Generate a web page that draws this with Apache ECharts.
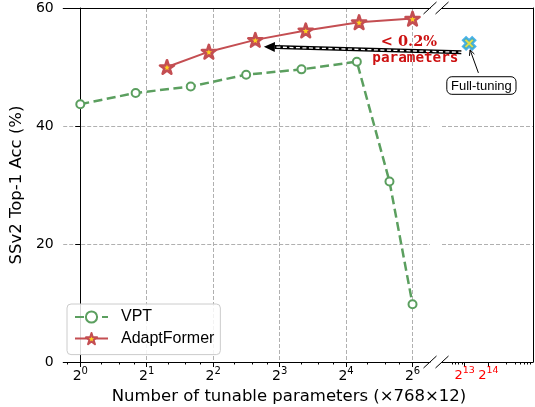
<!DOCTYPE html>
<html><head><meta charset="utf-8">
<script src="https://cdn.jsdelivr.net/npm/echarts@6/dist/echarts.min.js"></script>
<style>html,body{margin:0;padding:0;background:#fff}#c{width:535px;height:407px}</style>
</head><body><div id="c"></div>
<script>
// ---- data (x in log2 units of tunable parameters ×768×12) ----
const VPT_X = [0, 0.833, 1.662, 2.496, 3.329, 4.162, 4.653, 5.0];
const VPT_Y = [43.7, 45.6, 46.7, 48.7, 49.6, 50.9, 30.6, 9.8];
const ADAPT_X = [1.305, 1.935, 2.634, 3.393, 4.196, 5.0];
const ADAPT_Y = [50.0, 52.6, 54.6, 56.2, 57.6, 58.2];
const FULL_X = [13.19];
const FULL_Y = [54.0];
const LEFT_TICKS = [0, 1, 2, 3, 4, 5];
const LEFT_TICK_EXP = ['0', '1', '2', '3', '4', '6'];
const RIGHT_TICKS = [13, 14];
const RIGHT_TICK_EXP = ['13', '14'];
const LEFT_MINOR = [-0.193, 0.32, 0.585, 0.807, 1.32, 1.585, 1.807, 2.32, 2.585, 2.807, 3.32, 3.585, 3.807, 4.32, 4.585, 4.807];
const RIGHT_MINOR = [12.46, 12.6, 12.74, 12.88, 14.77, 15.12, 15.33, 15.5, 15.64, 15.75];
const Y_TICKS = [0, 20, 40, 60];
const SERIES_NAMES = ['VPT', 'AdaptFormer'];
const X_TITLE = 'Number of tunable parameters (×768×12)';
const Y_TITLE = 'SSv2 Top-1 Acc (%)';

const GREEN = '#5b9f5f', RED = '#c44e52';
const SANS = 'DejaVu Sans';
const STAR = 'path://M0 -1 L0.2245 -0.309 L0.951 -0.309 L0.363 0.118 L0.588 0.809 L0 0.382 L-0.588 0.809 L-0.363 0.118 L-0.951 -0.309 L-0.2245 -0.309 Z';
const XMARK = 'path://M-0.474 0.94 L0 0.467 L0.474 0.94 L0.94 0.474 L0.467 0 L0.94 -0.474 L0.474 -0.94 L0 -0.467 L-0.474 -0.94 L-0.94 -0.474 L-0.467 0 L-0.94 0.474 Z';

const G1 = {left: 59, top: 8, width: 371, height: 354};
const G2 = {left: 442, top: 8, width: 91, height: 354};

const zip = (xs, ys) => xs.map((x, i) => [x, ys[i]]);
const grid = {type: [4, 2], color: '#b0b0b0', width: 1};
const black = {color: '#000', width: 1};

function supLabel(exps, ticks, color, base, sup) {
  return {
    customValues: ticks, margin: 4,
    formatter: v => { const i = ticks.indexOf(v); return '{b|2}{s|' + (i >= 0 ? exps[i] : '') + '}'; },
    rich: {
      b: {fontFamily: SANS, fontSize: base, color: color},
      s: {fontFamily: SANS, fontSize: sup, color: color, padding: [0, 0, 10, 0]}
    }
  };
}

const chart = echarts.init(document.getElementById('c'), null, {renderer: 'canvas'});
chart.setOption({
  animation: false,
  backgroundColor: '#fff',
  grid: [G1, G2],
  xAxis: [
    {gridIndex: 0, type: 'value', min: -0.257, max: 5.263, position: 'bottom',
     axisLine: {lineStyle: black}, axisTick: {customValues: LEFT_TICKS, length: 5, lineStyle: black},
     axisLabel: supLabel(LEFT_TICK_EXP, LEFT_TICKS, '#000', 14, 10),
     splitLine: {show: true, lineStyle: grid}},
    {gridIndex: 1, type: 'value', min: 12.05, max: 15.874, position: 'bottom',
     axisLine: {lineStyle: black}, axisTick: {customValues: RIGHT_TICKS, length: 5, lineStyle: black},
     axisLabel: supLabel(RIGHT_TICK_EXP, RIGHT_TICKS, '#ff0000', 13, 9.5),
     splitLine: {show: false}},
    {gridIndex: 0, type: 'value', min: -0.257, max: 5.263, position: 'bottom',
     axisLine: {show: false}, axisTick: {customValues: LEFT_MINOR, length: 2.5, lineStyle: black},
     axisLabel: {show: false}, splitLine: {show: false}},
    {gridIndex: 1, type: 'value', min: 12.05, max: 15.874, position: 'bottom',
     axisLine: {show: false}, axisTick: {customValues: RIGHT_MINOR, length: 2.5, lineStyle: black},
     axisLabel: {show: false}, splitLine: {show: false}},
    {gridIndex: 0, type: 'value', min: -0.257, max: 5.263, position: 'top',
     axisLine: {lineStyle: black}, axisTick: {show: false}, axisLabel: {show: false}, splitLine: {show: false}},
    {gridIndex: 1, type: 'value', min: 12.05, max: 15.874, position: 'top',
     axisLine: {lineStyle: black}, axisTick: {show: false}, axisLabel: {show: false}, splitLine: {show: false}}
  ],
  yAxis: [
    {gridIndex: 0, type: 'value', min: 0, max: 60, interval: 20, position: 'left',
     axisLine: {show: true, lineStyle: black}, axisTick: {show: true, length: 5, lineStyle: black},
     axisLabel: {fontFamily: SANS, fontSize: 14, color: '#000', margin: 9.5},
     splitLine: {show: true, lineStyle: grid},
     name: Y_TITLE, nameLocation: 'middle', nameRotate: 90, nameGap: 17,
     nameTextStyle: {fontFamily: SANS, fontSize: 16.5, color: '#000'}},
    {gridIndex: 1, type: 'value', min: 0, max: 60, interval: 20, position: 'right',
     axisLine: {show: true, lineStyle: black}, axisTick: {show: false}, axisLabel: {show: false},
     splitLine: {show: true, lineStyle: grid}}
  ],
  legend: {
    data: SERIES_NAMES, orient: 'vertical', left: 67, top: 304,
    itemWidth: 33, itemHeight: 14, itemGap: 5.6, padding: [5, 6, 8, 7],
    backgroundColor: 'rgba(255,255,255,0.85)', borderColor: '#cccccc', borderWidth: 1, borderRadius: 4,
    textStyle: {fontFamily: 'Liberation Sans', fontSize: 16, color: '#000', lineHeight: 16, padding: [0, 0, 0, 8]}
  },
  series: [
    {name: SERIES_NAMES[0], type: 'line', xAxisIndex: 0, yAxisIndex: 0, data: zip(VPT_X, VPT_Y),
     symbol: 'circle', symbolSize: 8, showAllSymbol: true,
     itemStyle: {color: '#fff', borderColor: GREEN, borderWidth: 2},
     lineStyle: {color: GREEN, width: 2.5, type: [9, 4.5]}, z: 3},
    {name: SERIES_NAMES[1], type: 'line', xAxisIndex: 0, yAxisIndex: 0, data: zip(ADAPT_X, ADAPT_Y),
     symbol: STAR, symbolSize: [14, 13.5], showAllSymbol: true,
     itemStyle: {color: '#ffd21f', borderColor: RED, borderWidth: 2.6, borderJoin: 'round'},
     lineStyle: {color: RED, width: 2}, z: 4},
    {name: 'Full-tuning', type: 'scatter', xAxisIndex: 1, yAxisIndex: 1, data: zip(FULL_X, FULL_Y),
     symbol: XMARK, symbolSize: 12,
     itemStyle: {color: '#d8d41a', borderColor: '#1ea0e6', borderWidth: 2.4}, z: 5}
  ]
});

// ---- annotations (positioned in data space, converted by the chart) ----
const P0 = p => chart.convertToPixel({xAxisIndex: 0, yAxisIndex: 0}, p);
const P1 = p => chart.convertToPixel({xAxisIndex: 1, yAxisIndex: 1}, p);
const els = [];

// big arrow "< 0.2% parameters"
const tip = P0([2.763, 53.44]), tail = P0([5.735, 52.5]);
{
  const dx = tip[0] - tail[0], dy = tip[1] - tail[1], L = Math.hypot(dx, dy);
  const ux = dx / L, uy = dy / L, nx = -uy, ny = ux;
  const hl = 11, hw = 5;
  const bx = tip[0] - ux * hl, by = tip[1] - uy * hl;
  els.push({type: 'line', shape: {x1: tail[0], y1: tail[1], x2: bx, y2: by}, style: {stroke: '#000', lineWidth: 4}, z: 10});
  els.push({type: 'line', shape: {x1: tail[0] - ux * 1, y1: tail[1] - uy * 1, x2: bx, y2: by}, style: {stroke: '#fff', lineWidth: 1.3, lineDash: [4, 2.5]}, z: 11});
  els.push({type: 'polygon', shape: {points: [[tip[0], tip[1]], [bx + nx * hw, by + ny * hw], [bx - nx * hw, by - ny * hw]]}, style: {fill: '#000'}, z: 11});
}
const t1 = P0([4.946, 54.12]), t2 = P0([5.043, 51.47]);
els.push({type: 'text', x: t1[0], y: t1[1], style: {text: '< 0.2%', fill: '#cc1111', font: 'bold 14.5px "DejaVu Serif"', align: 'center', verticalAlign: 'middle'}, z: 12});
els.push({type: 'text', x: t2[0], y: t2[1], style: {text: 'parameters', fill: '#cc1111', font: 'bold 14.3px "DejaVu Sans Mono"', align: 'center', verticalAlign: 'middle'}, z: 12});

// Full-tuning label with arrow
const bc = P1([13.706, 46.86]);
els.push({type: 'rect', shape: {x: bc[0] - 34.6, y: bc[1] - 8.8, width: 69.2, height: 17.6, r: 5}, style: {fill: '#fff', stroke: '#000', lineWidth: 1}, z: 12});
els.push({type: 'text', x: bc[0], y: bc[1] + 0.5, style: {text: 'Full-tuning', fill: '#000', font: '13px "Liberation Sans"', align: 'center', verticalAlign: 'middle'}, z: 13});
{
  const a = P1([13.58, 49.0]), b = P1([13.23, 52.9]);
  const dx = b[0] - a[0], dy = b[1] - a[1], L = Math.hypot(dx, dy), ux = dx / L, uy = dy / L;
  const ang = 0.45, hl = 6;
  const rot = (x, y, t) => [x * Math.cos(t) - y * Math.sin(t), x * Math.sin(t) + y * Math.cos(t)];
  const r1 = rot(-ux, -uy, ang), r2 = rot(-ux, -uy, -ang);
  els.push({type: 'line', shape: {x1: a[0], y1: a[1], x2: b[0], y2: b[1]}, style: {stroke: '#000', lineWidth: 1}, z: 12});
  els.push({type: 'polyline', shape: {points: [[b[0] + r1[0] * hl, b[1] + r1[1] * hl], [b[0], b[1]], [b[0] + r2[0] * hl, b[1] + r2[1] * hl]]}, style: {stroke: '#000', lineWidth: 1, fill: null}, z: 12});
}

// axis-break marks
const xe1 = G1.left + G1.width, xs2 = G2.left, yt = G1.top, yb = G1.top + G1.height;
[[xe1, yt], [xs2, yt], [xe1, yb], [xs2, yb]].forEach(([x, y]) => {
  els.push({type: 'line', shape: {x1: x - 6.5, y1: y + 6, x2: x + 6.5, y2: y - 6}, style: {stroke: '#000', lineWidth: 1}, z: 12});
});

// x-axis title, centered over both panels
els.push({type: 'text', x: 289, y: 397, style: {text: X_TITLE, fill: '#000', font: '16.5px "DejaVu Sans"', align: 'center', verticalAlign: 'middle'}, z: 12});

chart.setOption({graphic: {elements: els}});
</script></body></html>
